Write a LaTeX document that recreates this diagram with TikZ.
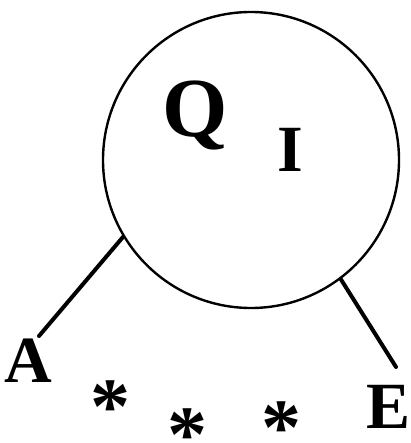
\documentclass[tikz,border=0pt]{standalone}
\usepackage{fontspec}
\setmainfont{Liberation Serif}
\usetikzlibrary{positioning}

\begin{document}
\begin{tikzpicture}[
  x=1pt, y=-1pt,
  ring/.style={draw,circle,line width=2.4pt,minimum size=296pt,inner sep=0pt},
  letter/.style={font=\fontsize{66}{66}\selectfont\bfseries,inner sep=0pt,anchor=base},
  star/.style={font=\fontsize{80}{80}\selectfont\bfseries,inner sep=0pt,anchor=center},
  stem/.style={line width=4pt,line cap=round}]
  \useasboundingbox (0,0) rectangle (410,443);
  \node[ring] (ring) at (251,160) {};
  \node[letter,font=\fontsize{84}{84}\selectfont\bfseries] (q) at (195,137) {Q};
  \node[letter] (i) at (290,172) {I};
  \node[letter] (a) at (28,382) {A};
  \node[letter] (e) at (389,428) {E};
  \coordinate (atop) at (39,336);
  \coordinate (etop) at (396,367);
  \draw[stem] (ring.211) -- (atop);
  \draw[stem] (ring.-53) -- (etop);
  % the three stars below
  \node[star] (s1) at (110,398) {\raisebox{-35pt}[0pt][0pt]{*}};
  \node[star] (s2) at (187,426) {\raisebox{-35pt}[0pt][0pt]{*}};
  \node[star] (s3) at (281,419) {\raisebox{-35pt}[0pt][0pt]{*}};
\end{tikzpicture}
\end{document}
